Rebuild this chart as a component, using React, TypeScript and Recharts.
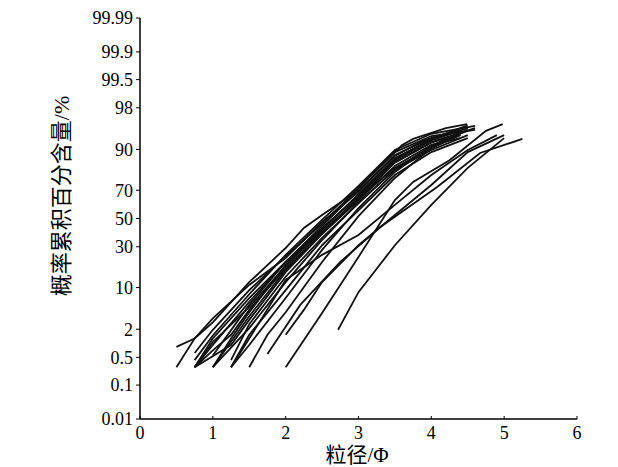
import React from 'react';
import { LineChart, Line, XAxis, YAxis } from 'recharts';

// probability paper: grain size (phi) vs cumulative percent
const xTicks = [0, 1, 2, 3, 4, 5, 6];
const yTickLabels = [0.01, 0.1, 0.5, 2, 10, 30, 50, 70, 90, 98, 99.5, 99.9, 99.99];

// [phi, cumulative %]
const sample01 = [[0.5, 0.86], [0.75, 1.3], [1, 2.7], [1.5, 11.9], [2, 29.2], [2.25, 43], [2.5, 52.6], [2.9, 66.9], [3.6, 91.4], [3.75, 93], [4.2, 95.3], [4.49, 96]];
const sample02 = [[0.5, 0.29], [0.75, 1.3], [1, 3.2], [1.5, 10.9], [2, 23.2], [2.5, 47.4], [3, 68.9], [3.5, 88.1], [4, 93.2], [4.4, 95]];
const sample03 = [[0.75, 0.29], [1, 1.3], [1.5, 7], [2, 21], [2.5, 43], [3, 66.2], [3.5, 86], [4, 92.7], [4.3, 94.4]];
const sample04 = [[0.75, 0.29], [1.25, 0.95], [1.5, 3], [2, 16], [2.5, 38.7], [3, 63.4], [3.5, 83.5], [4, 91.4], [4.4, 93.2]];
const sample05 = [[0.75, 0.63], [1, 1.95], [1.5, 9.2], [2, 24.3], [2.5, 46], [3, 71.4], [3.5, 89.1], [4, 93.7], [4.6, 95]];
const sample06 = [[0.75, 0.29], [1, 0.72], [1.25, 1.55], [1.5, 4.5], [2, 17.9], [2.5, 40.1], [3, 64.8], [3.5, 82.6], [4, 90.4], [4.4, 93.9]];
const sample07 = [[1, 0.29], [1.5, 2.1], [2, 11.9], [2.5, 34.5], [3, 62], [3.5, 81.6], [4, 89.8], [4.5, 93.9]];
const sample08 = [[1.25, 0.29], [1.5, 0.95], [2, 7], [2.5, 28], [3, 57.7], [3.5, 80.6], [4, 91.1], [4.4, 94.6]];
const sample09 = [[1.5, 0.29], [1.75, 1.55], [2, 4.1], [2.5, 21], [3, 51.8], [3.5, 77.4], [4, 90.4], [4.5, 95]];
const sample10 = [[1.75, 0.6], [2.2, 5.45], [2.75, 21], [3.3, 43.7], [4.08, 72], [4.67, 88.8], [5.25, 93]];
const sample11 = [[2, 1.55], [2.25, 4.5], [2.5, 11.9], [3, 31], [3.5, 52.6], [4, 73.3], [4.5, 89.1], [5, 93.9]];
const sample12 = [[2, 0.29], [2.5, 4], [3, 23.8], [3.5, 63.4], [3.75, 75.1], [4.25, 86], [4.75, 94.8], [4.98, 96]];
const sample13 = [[2.72, 1.95], [3, 8.6], [3.5, 31], [4, 60], [4.5, 82.6], [5, 93.2]];
const sample14 = [[1.25, 0.29], [1.5, 1.3], [2, 12.7], [2.5, 25], [3, 38], [3.5, 60], [4, 79], [4.5, 89.8], [4.9, 93.9]];
const sample15 = [[1, 0.29], [1.25, 1.3], [1.5, 4.1], [2, 19.5], [2.5, 41.6], [3, 67.5], [3.5, 86.9], [4, 92.7], [4.5, 95.3]];
const sample16 = [[0.75, 0.29], [1, 0.95], [1.5, 6.1], [2, 21], [2.5, 44.5], [3, 70], [3.5, 87.7], [3.9, 92.7], [4.3, 94.6]];
const sample17 = [[1, 0.55], [1.5, 5.45], [2, 21], [2.5, 40.1], [3, 63.4], [3.5, 85.3], [4, 92.2], [4.6, 95.3]];
const sample18 = [[1.25, 0.29], [1.5, 1.55], [2, 9.2], [2.5, 31], [3, 56], [3.5, 79], [4, 89.1], [4.5, 93.2]];
const sample19 = [[0.75, 0.43], [1, 1.5], [1.5, 8], [2, 25], [2.5, 49], [3, 72.7], [3.5, 89.8], [4, 94.2], [4.6, 95.7]];
const sample20 = [[1, 0.29], [1.5, 3.5], [2, 17], [2.5, 39], [3, 65], [3.5, 85], [4, 92], [4.5, 94.8]];
const sample21 = [[1.25, 0.43], [1.5, 2.5], [2, 14], [2.5, 36], [3, 61], [3.5, 82], [4, 91], [4.4, 94]];
const sample22 = [[0.75, 0.29], [1, 1.1], [1.5, 5], [2, 19], [2.5, 42], [3, 67], [3.5, 86.5], [4, 93], [4.5, 95.8]];

const samples = [
  sample01, sample02, sample03, sample04, sample05, sample06, sample07, sample08, sample09, sample10, sample11,
  sample12, sample13, sample14, sample15, sample16, sample17, sample18, sample19, sample20, sample21, sample22,
];

// inverse normal CDF (Acklam), used as the probability-paper scale
const probit = (p: number) => {
  const a = [-39.69683028665376, 220.9460984245205, -275.9285104469687, 138.357751867269, -30.66479806614716, 2.506628277459239];
  const b = [-54.47609879822406, 161.5858368580409, -155.6989798598866, 66.80131188771972, -13.28068155288572];
  const c = [-0.007784894002430293, -0.3223964580411365, -2.400758277161838, -2.549732539343734, 4.374664141464968, 2.938163982698783];
  const d = [0.007784695709041462, 0.3224671290700398, 2.445134137142996, 3.754408661907416];
  const lo = 0.02425;
  if (p < lo) {
    const q = Math.sqrt(-2 * Math.log(p));
    return (((((c[0] * q + c[1]) * q + c[2]) * q + c[3]) * q + c[4]) * q + c[5]) / ((((d[0] * q + d[1]) * q + d[2]) * q + d[3]) * q + 1);
  }
  if (p > 1 - lo) {
    const q = Math.sqrt(-2 * Math.log(1 - p));
    return -(((((c[0] * q + c[1]) * q + c[2]) * q + c[3]) * q + c[4]) * q + c[5]) / ((((d[0] * q + d[1]) * q + d[2]) * q + d[3]) * q + 1);
  }
  const q = p - 0.5;
  const r = q * q;
  return (((((a[0] * r + a[1]) * r + a[2]) * r + a[3]) * r + a[4]) * r + a[5]) * q / (((((b[0] * r + b[1]) * r + b[2]) * r + b[3]) * r + b[4]) * r + 1);
};

const yTicks = yTickLabels.map((v) => probit(v / 100));
const yDomain = [yTicks[0], yTicks[yTicks.length - 1]];

const fmtY = (z: number) => {
  let best = 0;
  yTicks.forEach((t, i) => {
    if (Math.abs(t - z) < Math.abs(yTicks[best] - z)) best = i;
  });
  return String(yTickLabels[best]);
};

const FONT = '"Liberation Serif", "Noto Sans CJK SC", serif';

const XTick = (props: any) => {
  const { x, y, payload } = props;
  return (
    <g>
      <line x1={x} x2={x} y1={y} y2={y - 3} stroke="#000" strokeWidth={1} />
      <text x={x} y={y + 20} textAnchor="middle" fontFamily={FONT} fontSize={18} fill="#000">
        {payload.value}
      </text>
    </g>
  );
};

export default function App() {
  return (
    <div style={{ position: 'absolute', left: 0, top: 0, background: '#fff' }}>
      <LineChart width={618} height={467} margin={{ top: 18, right: 41, bottom: 18, left: 80 }}>
        <XAxis
          type="number"
          dataKey="phi"
          domain={[0, 6]}
          ticks={xTicks}
          interval={0}
          allowDataOverflow
          height={30}
          tickSize={0}
          tickMargin={0}
          tickLine={false}
          tick={<XTick />}
          axisLine={{ stroke: '#000', strokeWidth: 1.5 }}
          label={{
            content: () => (
              <text x={357} y={455} textAnchor="middle" dominantBaseline="central" fontFamily={FONT} fontSize={21} fill="#000">
                粒径/Φ
              </text>
            ),
          }}
        />
        <YAxis
          type="number"
          dataKey="z"
          domain={yDomain}
          ticks={yTicks}
          interval={0}
          allowDataOverflow
          width={60}
          tickSize={4}
          tickMargin={3}
          tickFormatter={fmtY}
          tick={{ fontFamily: FONT, fontSize: 18, fill: '#000' }}
          tickLine={{ stroke: '#000', strokeWidth: 1 }}
          axisLine={{ stroke: '#000', strokeWidth: 1.5 }}
          label={{
            content: () => (
              <text x={61} y={196} transform="rotate(-90 61 196)" textAnchor="middle" dominantBaseline="central" fontFamily={FONT} fontSize={22} fill="#000">
                概率累积百分含量/%
              </text>
            ),
          }}
        />
        {samples.map((s, i) => (
          <Line
            key={`s-${i}`}
            data={s.map(([phi, pct]) => ({ phi, z: probit(pct / 100) }))}
            dataKey="z"
            type="linear"
            stroke="#111"
            strokeWidth={1.8}
            dot={false}
            activeDot={false}
            isAnimationActive={false}
          />
        ))}
      </LineChart>
    </div>
  );
}
